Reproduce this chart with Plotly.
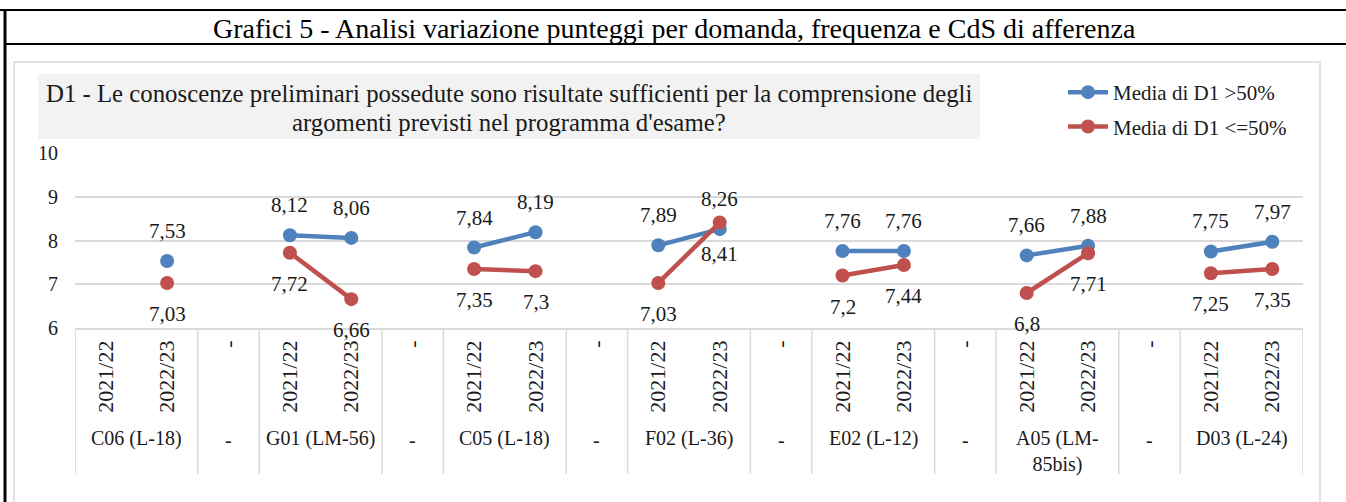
import plotly.graph_objects as go

# Data (None = no value for that year)
groups = ["C06 (L-18)", "G01 (LM-56)", "C05 (L-18)", "F02 (L-36)",
          "E02 (L-12)", "A05 (LM-<br>85bis)", "D03 (L-24)"]
years = ["2021/22", "2022/23"]
media_sopra = [None, 7.53, 8.12, 8.06, 7.84, 8.19, 7.89, 8.26,
               7.76, 7.76, 7.66, 7.88, 7.75, 7.97]
media_sotto = [None, 7.03, 7.72, 6.66, 7.35, 7.3, 7.03, 8.41,
               7.2, 7.44, 6.8, 7.71, 7.25, 7.35]
title_main = "Grafici 5 - Analisi variazione punteggi per domanda, frequenza e CdS di afferenza"
title_chart = ["D1 - Le conoscenze preliminari possedute sono risultate sufficienti per la comprensione degli",
               "argomenti previsti nel programma d'esame?"]
name_sopra = "Media di D1 >50%"
name_sotto = "Media di D1 <=50%"

FONT = "Liberation Serif"
BLUE = "#4f81bd"
RED = "#c0504d"
GRID = "#d9d9d9"
TXT = "#1a1a1a"
FS = 21

# plot area in pixels (used to place the decoration outside the plot)
W, H = 1346, 502
L, R, T, B = 75, 1303, 153, 328


def px_x(px):
    return (px - L) / (R - L)


def px_y(py):
    return (B - py) / (B - T)


def fnt(size=FS, color=TXT):
    return dict(family=FONT, size=size, color=color)


def label(**kw):
    a = dict(showarrow=False, xanchor="center", yanchor="middle")
    a.update(kw)
    return a


# build x positions: each group has 2 years, then a "-" separator slot
xs, ys_sopra, ys_sotto = [], [], []
tickvals, ticktext = [], []
k = 0
for gi, g in enumerate(groups):
    for yi, yr in enumerate(years):
        xs.append(len(tickvals))
        ys_sopra.append(media_sopra[k])
        ys_sotto.append(media_sotto[k])
        tickvals.append(len(tickvals))
        ticktext.append(yr)
        k += 1
    if gi < len(groups) - 1:
        xs.append(len(tickvals))
        ys_sopra.append(None)
        ys_sotto.append(None)
        tickvals.append(len(tickvals))
        ticktext.append("-")

fig = go.Figure()
fig.add_trace(go.Scatter(x=xs, y=ys_sopra, name=name_sopra, mode="lines+markers",
                         legendgroup="a",
                         line=dict(color=BLUE, width=4.5),
                         marker=dict(color=BLUE, size=14), connectgaps=False))
fig.add_trace(go.Scatter(x=xs, y=ys_sotto, name=name_sotto, mode="lines+markers",
                         legendgroup="b",
                         line=dict(color=RED, width=4.5),
                         marker=dict(color=RED, size=14), connectgaps=False))

annotations = []
# data labels: blue above the point, red below
for x, v in zip(xs, ys_sopra):
    if v is not None:
        annotations.append(label(x=x, y=v, xref="x", yref="y", text=str(v).replace(".", ","),
                                 yshift=30, font=fnt()))
for x, v in zip(xs, ys_sotto):
    if v is not None:
        annotations.append(label(x=x, y=v, xref="x", yref="y", text=str(v).replace(".", ","),
                                 yshift=-31, font=fnt()))

# group labels and separators below the axis
shapes = []
for gi, g in enumerate(groups):
    two = "<br>" in g
    annotations.append(label(x=gi * 3 + 0.5, y=px_y(438), xref="x", yref="paper", text=g,
                             yanchor="top" if two else "middle",
                             yshift=13 if two else 0, font=fnt(20)))
    if gi < len(groups) - 1:
        annotations.append(label(x=gi * 3 + 2, y=px_y(440), xref="x", yref="paper", text="-",
                                 font=fnt(20)))
bounds = [-0.5]
for gi in range(len(groups)):
    bounds.append(gi * 3 + 1.5)
    if gi < len(groups) - 1:
        bounds.append(gi * 3 + 2.5)
for b in bounds:
    shapes.append(dict(type="line", xref="x", yref="paper", x0=b, x1=b,
                       y0=0, y1=px_y(474), line=dict(color=GRID, width=1.5)))

# frame, table row and title box
shapes += [
    dict(type="rect", xref="paper", yref="paper", x0=px_x(38), x1=px_x(980),
         y0=px_y(139), y1=px_y(74), fillcolor="#f2f2f2", line=dict(width=0), layer="below"),
    dict(type="rect", xref="paper", yref="paper", x0=px_x(14), x1=px_x(1320),
         y0=px_y(530), y1=px_y(62), line=dict(color=GRID, width=1.5), layer="below"),
    dict(type="line", xref="paper", yref="paper", x0=px_x(0), x1=px_x(1346),
         y0=px_y(10), y1=px_y(10), line=dict(color="black", width=2)),
    dict(type="line", xref="paper", yref="paper", x0=px_x(5), x1=px_x(1346),
         y0=px_y(44), y1=px_y(44), line=dict(color="black", width=2)),
    dict(type="line", xref="paper", yref="paper", x0=px_x(5), x1=px_x(5),
         y0=px_y(9), y1=px_y(510), line=dict(color="black", width=3)),
]

annotations.append(label(x=px_x(674), y=px_y(28), xref="paper", yref="paper", text=title_main,
                         font=fnt(28, "black")))
for i, line in enumerate(title_chart):
    annotations.append(label(x=px_x(509), y=px_y(93 + 30 * i), xref="paper", yref="paper",
                             text=line, font=fnt(24.8)))

fig.update_layout(
    width=W, height=H, autosize=False,
    margin=dict(l=L, r=W - R, t=T, b=H - B, pad=0, autoexpand=False),
    paper_bgcolor="white", plot_bgcolor="white",
    font=fnt(),
    showlegend=True,
    legend=dict(xref="container", yref="container", x=1063 / W, y=1 - 72 / H,
                xanchor="left", yanchor="top",
                bgcolor="rgba(0,0,0,0)", font=fnt(),
                traceorder="grouped", tracegroupgap=4, itemwidth=40),
    annotations=annotations, shapes=shapes,
)
fig.update_xaxes(range=[-0.5, len(tickvals) - 0.5], tickmode="array", tickvals=tickvals,
                 ticktext=ticktext, tickangle=-90, showgrid=False, zeroline=False,
                 showline=True, linecolor=GRID, linewidth=1.5, ticks="",
                 tickfont=fnt(22), ticklabelstandoff=2, automargin=False)
fig.update_yaxes(range=[6, 10], dtick=1, showgrid=True, gridcolor=GRID, gridwidth=1.5,
                 zeroline=False, showline=False, ticks="", ticklabelstandoff=16,
                 tickfont=fnt(20), automargin=False)

# the page adds a default body margin; remove it so the figure sits at the top-left
fig.write_html("out.html", config={"displayModeBar": False},
               post_script="document.body.style.margin='0';")
